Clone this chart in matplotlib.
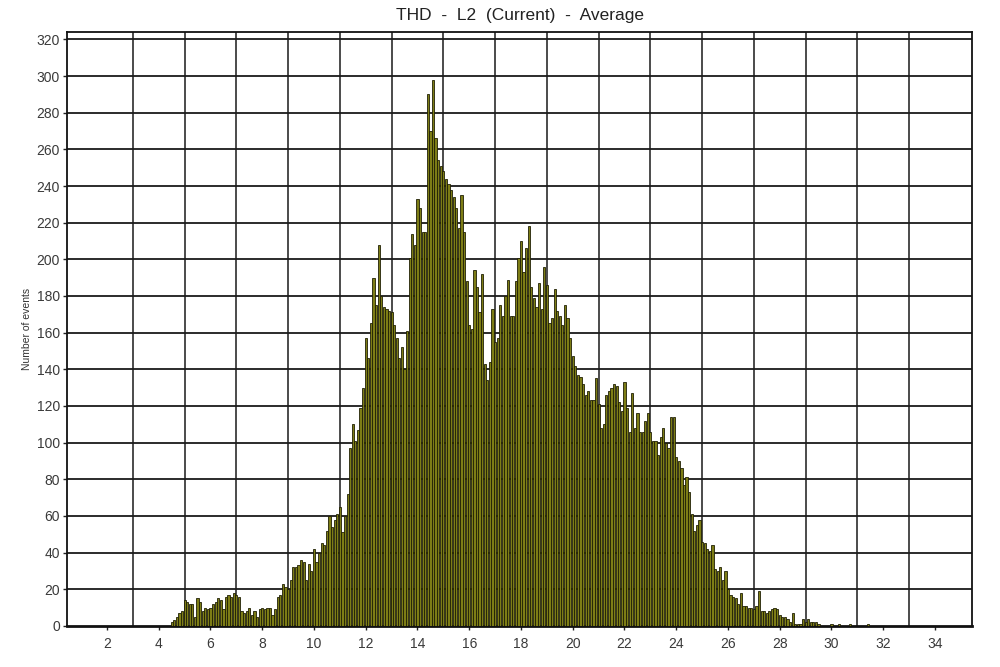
import numpy as np
import matplotlib
matplotlib.use("Agg")
import matplotlib.pyplot as plt
from matplotlib.ticker import FixedLocator

# ---- data (counts per 0.1 THD bin, first bin centred at 4.5) ----
bin_first = 4.5
bin_width = 0.1
counts = [
    2, 3, 5, 7, 8,                                   # 4.5-4.9
    14, 13, 12, 12, 5, 15, 13, 8, 10, 9,             # 5.x
    10, 12, 13, 15, 14, 9, 16, 17, 16, 18,           # 6.x
    17, 16, 8, 7, 8, 10, 6, 8, 5, 9,                 # 7.x
    10, 9, 10, 10, 6, 9, 16, 17, 23, 21,             # 8.x
    20, 25, 32, 32, 33, 36, 35, 25, 34, 30,          # 9.x
    42, 35, 40, 45, 44, 52, 60, 54, 58, 61,          # 10.x
    65, 51, 60, 72, 97, 110, 101, 107, 119, 130,     # 11.x
    157, 146, 165, 190, 175, 208, 180, 174, 173, 172,  # 12.x
    171, 164, 157, 146, 152, 140, 161, 201, 214, 208,  # 13.x
    233, 228, 215, 215, 290, 270, 298, 266, 254, 251,  # 14.x
    248, 244, 241, 238, 234, 228, 217, 235, 215, 188,  # 15.x
    164, 162, 194, 185, 171, 192, 143, 134, 144, 173,  # 16.x
    155, 157, 175, 169, 180, 189, 169, 169, 188, 201,  # 17.x
    210, 193, 206, 218, 185, 179, 174, 187, 173, 196,  # 18.x
    186, 165, 168, 184, 172, 169, 164, 175, 168, 157,  # 19.x
    147, 142, 137, 136, 132, 126, 128, 123, 123, 135,  # 20.x
    121, 108, 110, 126, 128, 130, 132, 131, 122, 117,  # 21.x
    133, 119, 106, 127, 108, 116, 106, 106, 112, 116,  # 22.x
    106, 101, 101, 93, 103, 108, 100, 97, 114, 114,    # 23.x
    92, 90, 86, 77, 81, 73, 61, 52, 55, 58,            # 24.x
    46, 45, 42, 41, 44, 31, 30, 32, 25, 30,            # 25.x
    20, 17, 16, 15, 12, 18, 11, 11, 10, 10,            # 26.x
    9, 11, 19, 8, 8, 7, 8, 9, 10, 9,                   # 27.x
    6, 5, 5, 4, 2, 7, 1, 1, 1, 4,                      # 28.x
    2, 4, 2, 2, 2, 1, 0, 0, 0, 0,                      # 29.x
    1, 0, 0, 1, 0, 0, 0, 1, 0, 0,                      # 30.x
    0, 0, 0, 0, 1,                                     # 31.0-31.4
]
x_ticks = [2, 4, 6, 8, 10, 12, 14, 16, 18, 20, 22, 24, 26, 28, 30, 32, 34]
x_grid = [3, 5, 7, 9, 11, 13, 15, 17, 19, 21, 23, 25, 27, 29, 31, 33]
y_ticks = list(range(0, 321, 20))
title = "THD  -  L2  (Current)  -  Average"
ylabel = "Number of events"

centers = bin_first + bin_width * np.arange(len(counts))

plt.rcParams['font.family'] = ['Liberation Sans', 'DejaVu Sans']

fig = plt.figure(figsize=(10, 6.67), dpi=100)
ax = fig.add_axes([0.067, 0.0615, 0.905, 0.8905])

ax.bar(centers, counts, width=bin_width * 0.85, align='center',
       color='#7d7d16', edgecolor='#202005', linewidth=0.6, zorder=3)

ax.set_xlim(0.455, 35.43)
ax.set_ylim(0, 324)

ax.xaxis.set_major_locator(FixedLocator(x_ticks))
ax.yaxis.set_major_locator(FixedLocator(y_ticks))
ax.set_xticklabels([str(v) for v in x_ticks])
ax.set_yticklabels([str(v) for v in y_ticks])

for v in x_grid:
    ax.axvline(v, color='#1a1a1a', linewidth=1.1, zorder=1)
for v in y_ticks[1:]:
    ax.axhline(v, color='#1a1a1a', linewidth=1.3, zorder=1)

ax.tick_params(axis='both', direction='out', length=3, width=1,
               colors='#222222', labelcolor='#3a3a3a', labelsize=10)
ax.tick_params(axis='x', pad=5)
ax.tick_params(axis='y', pad=2)

for s in ax.spines.values():
    s.set_color('#111111')
    s.set_linewidth(1.3)
ax.spines['bottom'].set_linewidth(2.0)

ax.set_title(title, fontsize=12.5, color='#222222', pad=9)
ax.set_ylabel(ylabel, fontsize=7.5, color='#333333', labelpad=3)

fig.savefig("out.png", dpi=100, facecolor='white')
